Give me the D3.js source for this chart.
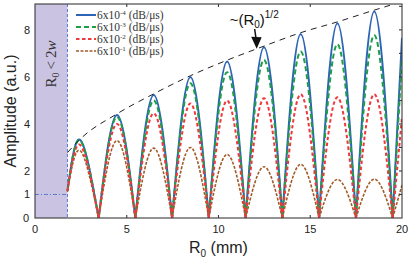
<!DOCTYPE html>
<html>
<head>
<meta charset="utf-8">
<script src="https://cdn.jsdelivr.net/npm/d3@7"></script>
<style>
  body { margin: 0; background: #fff; }
  svg { display: block; }
</style>
</head>
<body>
<div id="chart"></div>
<script>
// lobe positions (mm)
const startR = 1.77;
const endR = 20;
const peakR = [2.47, 4.47, 6.47, 8.47, 10.47, 12.48, 14.48, 16.48, 18.49];
const zeroR = [3.47, 5.47, 7.47, 9.47, 11.48, 13.48, 15.48, 17.49, 19.49];

// peak amplitude of each lobe, plus the values at the ends of the range
const blueStart = 1.15, blueEnd = 7.65;
const bluePeaks = [3.32, 4.38, 5.23, 6.0, 6.65, 7.26, 7.82, 8.28, 8.78];
const greenStart = 1.15, greenEnd = 6.8;
const greenPeaks = [3.3, 4.3, 5.0, 5.73, 6.2, 6.72, 7.08, 7.39, 7.77];
const redStart = 1.15, redEnd = 4.3;
const redPeaks = [3.1, 4.0, 4.45, 4.87, 4.99, 5.09, 5.26, 5.13, 5.26];
const brownStart = 1.12, brownEnd = 1.4;
const brownPeaks = [2.86, 3.29, 2.97, 3.0, 2.7, 2.18, 2.28, 1.64, 1.65];

// ~sqrt(R0) envelope
const envR = [1.77, 2.47, 4.47, 6.47, 8.47, 10.47, 12.48, 14.48, 16.48, 18.49, 20];
const envA = [2.78, 3.36, 4.43, 5.28, 6.05, 6.71, 7.31, 7.88, 8.34, 8.84, 9.2];

const legendLabels = ['6x10', '6x10', '6x10', '6x10'];
const legendExp = ['-4', '-3', '-2', '-1'];
const xTicks = [0, 5, 10, 15, 20];
const yTickLabels = [0, 1, 2, 4, 6, 8];

const width = 415, height = 263;
const margin = { left: 35, right: 13, top: 4, bottom: 45 };

const x = d3.scaleLinear().domain([0, 20]).range([margin.left, width - margin.right]);
const y = d3.scaleLinear().domain([0, 9.1]).range([height - margin.bottom, margin.top]);

const svg = d3.select('#chart').append('svg')
    .attr('width', width)
    .attr('height', height);

svg.append('defs').append('clipPath').attr('id', 'plot')
    .append('rect')
    .attr('x', x(0)).attr('y', y(9.1))
    .attr('width', x(20) - x(0)).attr('height', y(0) - y(9.1));

// shaded R0 < 2w region
svg.append('rect')
    .attr('x', x(0)).attr('y', y(9.1))
    .attr('width', x(startR) - x(0)).attr('height', y(0) - y(9.1))
    .attr('fill', '#cbc3e2');

svg.append('line')
    .attr('x1', x(startR)).attr('x2', x(startR))
    .attr('y1', y(9.1)).attr('y2', y(0))
    .attr('stroke', '#5b7bd0').attr('stroke-width', 1)
    .attr('stroke-dasharray', '3,2');
svg.append('line')
    .attr('x1', x(0)).attr('x2', x(startR))
    .attr('y1', y(1)).attr('y2', y(1))
    .attr('stroke', '#5b7bd0').attr('stroke-width', 1)
    .attr('stroke-dasharray', '4,2,1,2');

svg.append('text')
    .attr('transform', `translate(56,${y(6.55)}) rotate(-90)`)
    .attr('text-anchor', 'middle')
    .attr('font-family', 'Liberation Serif, serif')
    .attr('font-size', 15)
    .attr('fill', '#333')
    .call(t => {
        t.append('tspan').text('R');
        t.append('tspan').attr('font-size', 10).attr('dy', 3).text('0');
        t.append('tspan').attr('dy', -3).text('\u2009<\u20092');
        t.append('tspan').attr('font-style', 'italic').text('w');
    });

// curves
const line = d3.line()
    .x(d => x(d[0]))
    .y(d => y(d[1]))
    .curve(d3.curveNatural);

function seriesPath(start, peaks, end) {
    const segs = [[[startR, start], [peakR[0], peaks[0]], [zeroR[0], 0]]];
    for (let i = 1; i < peaks.length; i++) {
        segs.push([[zeroR[i - 1], 0], [peakR[i], peaks[i]], [zeroR[i], 0]]);
    }
    segs.push([[zeroR[zeroR.length - 1], 0], [endR, end]]);
    return segs.map(s => line(s)).join('');
}

const series = [
    { start: blueStart, peaks: bluePeaks, end: blueEnd, color: '#2c64b6', dash: null, w: 2 },
    { start: greenStart, peaks: greenPeaks, end: greenEnd, color: '#1f9e48', dash: '5,3', w: 2 },
    { start: brownStart, peaks: brownPeaks, end: brownEnd, color: '#a05c28', dash: '3,1.5', w: 1.6 },
    { start: redStart, peaks: redPeaks, end: redEnd, color: '#f0373c', dash: '3.5,2.5', w: 2 }
];

const plot = svg.append('g').attr('clip-path', 'url(#plot)');

plot.selectAll('path.curve')
    .data(series)
    .enter()
    .append('path')
    .attr('class', 'curve')
    .attr('d', d => seriesPath(d.start, d.peaks, d.end))
    .attr('fill', 'none')
    .attr('stroke', d => d.color)
    .attr('stroke-width', d => d.w)
    .attr('stroke-dasharray', d => d.dash);

// envelope
plot.append('path')
    .attr('d', d3.line().x(d => x(d[0])).y(d => y(d[1])).curve(d3.curveMonotoneX)(envR.map((r, i) => [r, envA[i]])))
    .attr('fill', 'none')
    .attr('stroke', '#222')
    .attr('stroke-width', 1)
    .attr('stroke-dasharray', '6,5');

// frame + ticks
const frame = svg.append('g').attr('stroke', '#3a3a3a').attr('stroke-width', 1.1);
frame.append('rect')
    .attr('x', x(0)).attr('y', y(9.1))
    .attr('width', x(20) - x(0)).attr('height', y(0) - y(9.1))
    .attr('fill', 'none');

[5, 10, 15].forEach(v => {
    frame.append('line').attr('x1', x(v)).attr('x2', x(v)).attr('y1', y(0)).attr('y2', y(0) - 3);
    frame.append('line').attr('x1', x(v)).attr('x2', x(v)).attr('y1', y(9.1)).attr('y2', y(9.1) + 3);
});
d3.range(1, 10).forEach(v => {
    frame.append('line').attr('x1', x(20)).attr('x2', x(20) - 3).attr('y1', y(v)).attr('y2', y(v));
});

svg.append('g')
    .attr('font-family', 'Liberation Sans, Arial, sans-serif')
    .attr('font-size', 11)
    .attr('fill', '#222')
    .selectAll('text')
    .data(xTicks)
    .enter()
    .append('text')
    .attr('x', d => x(d))
    .attr('y', y(0) + 15)
    .attr('text-anchor', 'middle')
    .text(d => d);

svg.append('g')
    .attr('font-family', 'Liberation Sans, Arial, sans-serif')
    .attr('font-size', 11)
    .attr('fill', '#222')
    .selectAll('text')
    .data(yTickLabels)
    .enter()
    .append('text')
    .attr('x', d => d === 0 ? x(0) - 6 : x(0) - 5)
    .attr('y', d => y(d) + 4)
    .attr('text-anchor', 'end')
    .text(d => d);

// axis titles
svg.append('text')
    .attr('transform', `translate(16,${(y(0) + y(9.1)) / 2}) rotate(-90)`)
    .attr('text-anchor', 'middle')
    .attr('font-family', 'Liberation Sans, Arial, sans-serif')
    .attr('font-size', 16)
    .attr('fill', '#222')
    .text('Amplitude (a.u.)');

svg.append('text')
    .attr('x', (x(0) + x(20)) / 2)
    .attr('y', 253)
    .attr('text-anchor', 'middle')
    .attr('font-family', 'Liberation Sans, Arial, sans-serif')
    .attr('font-size', 16)
    .attr('fill', '#222')
    .call(t => {
        t.append('tspan').text('R');
        t.append('tspan').attr('font-size', 10).attr('dy', 4).text('0');
        t.append('tspan').attr('dy', -4).text(' (mm)');
    });

// legend
const legend = svg.append('g').attr('transform', 'translate(76,15)');
const legendOrder = [series[0], series[1], series[3], series[2]];
legendOrder.forEach((s, i) => {
    const g = legend.append('g').attr('transform', `translate(0,${i * 12})`);
    g.append('line')
        .attr('x1', 0).attr('x2', 20)
        .attr('stroke', s.color)
        .attr('stroke-width', s.w)
        .attr('stroke-dasharray', s.dash);
    const t = g.append('text')
        .attr('x', 21).attr('y', 4)
        .attr('font-family', 'Liberation Serif, serif')
        .attr('font-size', 11.5)
        .attr('fill', '#333');
    t.append('tspan').text(legendLabels[i]);
    t.append('tspan').attr('font-size', 7).attr('dy', -4).text(legendExp[i]);
    t.append('tspan').attr('dy', 4).text(' (dB/\u03bcs)');
});

// annotation
const tip = [12.08, 7.2];
svg.append('text')
    .attr('x', x(tip[0]) - 27).attr('y', 25)
    .attr('font-family', 'Liberation Sans, Arial, sans-serif')
    .attr('font-size', 15)
    .attr('fill', '#111')
    .call(t => {
        t.append('tspan').text('~(R');
        t.append('tspan').attr('font-size', 10).attr('dy', 3).text('0');
        t.append('tspan').attr('dy', -3).text(')');
        t.append('tspan').attr('font-size', 10).attr('dy', -7).text('1/2');
    });

svg.append('line')
    .attr('x1', x(tip[0]) - 2).attr('y1', 29)
    .attr('x2', x(tip[0]) - 0.5).attr('y2', y(tip[1]) - 9)
    .attr('stroke', '#111').attr('stroke-width', 1.5);
svg.append('path')
    .attr('d', `M${x(tip[0])},${y(tip[1])} L${x(tip[0]) - 5.5},${y(tip[1]) - 12} L${x(tip[0]) + 5},${y(tip[1]) - 11.5} Z`)
    .attr('fill', '#111');
</script>
</body>
</html>
